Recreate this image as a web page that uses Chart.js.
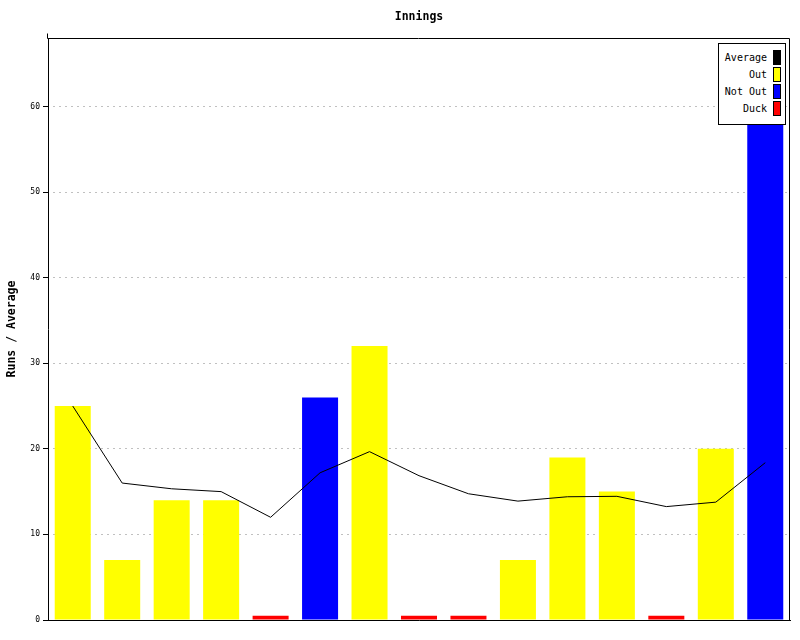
<!DOCTYPE html>
<html>
<head>
<meta charset="utf-8">
<script src="https://cdn.jsdelivr.net/npm/chart.js@4"></script>
<style>
  html, body { margin: 0; padding: 0; background: #fff; }
  #wrap { position: relative; width: 800px; height: 640px; }
  #legend {
    position: absolute; left: 718px; top: 43px; width: 66px; height: 80px;
    border: 1px solid #000; background: #fff; box-sizing: content-box;
    font-family: "DejaVu Sans Mono", monospace; font-size: 10px; color: #000;
  }
  .row { position: absolute; right: 4px; height: 15px; display: flex; align-items: center; }
  .row span.t { margin-right: 6px; white-space: pre; }
  .row span.s { display: inline-block; width: 6px; height: 13px; border: 1px solid #000; }
</style>
</head>
<body>
<div id="wrap">
  <canvas id="c" width="800" height="640"></canvas>
  <div id="legend"></div>
</div>
<script>
// ---- data ----
const innings = ['1','2','3','4','5','6','7','8','9','10','11','12','13','14','15'];
const barValues = [25, 7, 14, 14, 0.5, 26, 32, 0.5, 0.5, 7, 19, 15, 0.5, 20, 61];
const status = ['Out','Out','Out','Out','Duck','Not Out','Out','Duck','Duck','Out','Out','Out','Duck','Out','Not Out'];
const average = [25, 16, 15.33, 15, 12, 17.2, 19.67, 16.86, 14.75, 13.89, 14.4, 14.45, 13.25, 13.77, 18.38];
const legendLabels = ['Average', 'Out', 'Not Out', 'Duck'];
const yTicks = [0, 10, 20, 30, 40, 50, 60];

const statusColors = { 'Out': '#ffff00', 'Not Out': '#0000ff', 'Duck': '#ff0000', 'Average': '#000000' };
const barColors = status.map(s => statusColors[s]);

const frame = {
  id: 'frame',
  afterDraw(chart) {
    const { ctx, chartArea: a } = chart;
    ctx.save();
    ctx.strokeStyle = '#000';
    ctx.lineWidth = 1;
    ctx.beginPath();
    const l = Math.round(a.left) - 0.5, r = Math.round(a.right) - 0.5, t = Math.round(a.top) + 0.5, b = Math.round(a.bottom);
    ctx.moveTo(l, t); ctx.lineTo(r, t); ctx.lineTo(r, b);
    ctx.moveTo(l, t - 5); ctx.lineTo(l, t);
    ctx.stroke();
    ctx.restore();
  }
};

new Chart(document.getElementById('c'), {
  data: {
    labels: innings,
    datasets: [
      {
        type: 'line', label: 'Average', data: average, borderColor: '#000', borderWidth: 1,
        pointRadius: 0, tension: 0, fill: false, order: 0
      },
      {
        type: 'bar', label: 'Runs', data: barValues, backgroundColor: barColors, borderWidth: 0,
        barPercentage: 0.728, categoryPercentage: 1.0, order: 1
      }
    ]
  },
  options: {
    responsive: false,
    animation: false,
    layout: { padding: { left: 0, right: 10, top: 0, bottom: 0 } },
    plugins: {
      legend: { display: false },
      tooltip: { enabled: false },
      title: {
        display: true, text: 'Innings', fullSize: false, color: '#000',
        font: { family: 'DejaVu Sans Mono', size: 11.5, weight: 'bold', lineHeight: 1.2 },
        padding: { top: 10.1, bottom: 14.1 }
      }
    },
    scales: {
      x: {
        type: 'category',
        grid: { display: false },
        ticks: { display: false },
        border: { display: true, color: '#000', width: 1 },
        afterFit(s) { s.height = 20; }
      },
      y: {
        type: 'linear', min: 0, max: 68,
        afterBuildTicks(s) { s.ticks = yTicks.map(v => ({ value: v })); },
        ticks: {
          stepSize: 10, includeBounds: false, color: '#000', padding: 3,
          font: { family: 'DejaVu Sans Mono', size: 8 }
        },
        grid: {
          color: '#c0c0c0', lineWidth: 1, drawTicks: true, tickLength: 5,
          tickColor: '#000', tickBorderDash: [], tickWidth: 1
        },
        border: { display: true, color: '#000', width: 1, dash: [2, 4], dashOffset: -4 },
        title: {
          display: true, text: 'Runs / Average', color: '#000',
          font: { family: 'DejaVu Sans Mono', size: 11.5, weight: 'bold', lineHeight: 1.2 },
          padding: { top: 5.6, bottom: 0 }
        },
        afterFit(s) { s.width = 48; }
      }
    }
  },
  plugins: [frame]
});

// legend
const lg = document.getElementById('legend');
legendLabels.forEach((name, i) => {
  const row = document.createElement('div');
  row.className = 'row';
  row.style.top = (6 + i * 17) + 'px';
  const t = document.createElement('span'); t.className = 't'; t.textContent = name;
  const s = document.createElement('span'); s.className = 's'; s.style.background = statusColors[name];
  row.appendChild(t); row.appendChild(s);
  lg.appendChild(row);
});
</script>
</body>
</html>
